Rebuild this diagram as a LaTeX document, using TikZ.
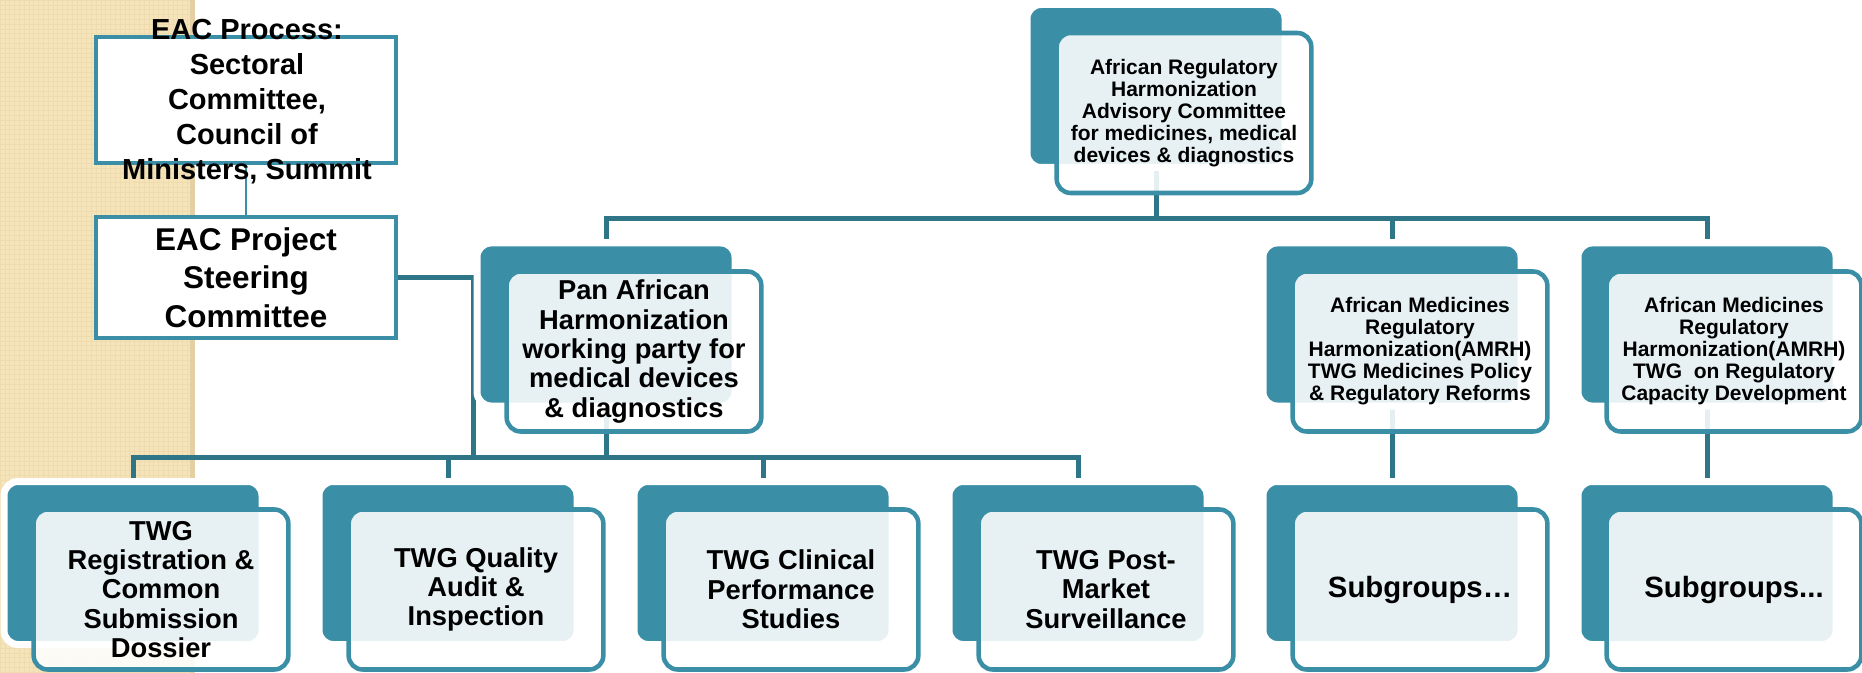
\documentclass[tikz,border=0pt]{standalone}
\usepackage{fontspec}
\setmainfont{Liberation Sans}
\definecolor{boxteal}{RGB}{58,143,166}
\definecolor{linkteal}{RGB}{45,117,135}
\definecolor{paperbeige}{RGB}{245,228,186}
\definecolor{papergrid}{RGB}{238,219,174}
\definecolor{paperedge}{RGB}{228,208,162}
\pgfdeclarelayer{paper}
\pgfdeclarelayer{links}
\pgfsetlayers{paper,links,main}
\begin{document}
\begin{tikzpicture}[x=0.75pt,y=-0.75pt]
  \tikzstyle{back}=[rectangle,rounded corners=10.5pt,fill=boxteal,draw=white,line width=5.25pt,minimum width=193.5pt,minimum height=122.25pt,inner sep=0pt]
  \tikzstyle{front}=[rectangle,rounded corners=10.5pt,draw=boxteal,line width=3.4pt,fill=white,fill opacity=0.88,text opacity=1,minimum width=191pt,minimum height=120pt,inner sep=0pt,align=center]
  \tikzstyle{plain}=[rectangle,draw=boxteal,line width=3.4pt,fill=white,minimum width=225pt,inner sep=0pt,align=center]
  \tikzstyle{link}=[draw=linkteal,line width=3.75pt]
  \tikzstyle{small}=[font=\bfseries\fontsize{15.75}{16.5}\selectfont]
  \tikzstyle{mid}=[font=\bfseries\fontsize{20.5}{22}\selectfont]
  \tikzstyle{big}=[font=\bfseries\fontsize{22}{26}\selectfont]
  \useasboundingbox (0,0) rectangle (1862,673);
  \begin{pgfonlayer}{paper}
    \fill[paperbeige] (0,0) rectangle (195,673);
    \draw[papergrid,line width=0.4pt,step=3.6pt] (0,0) grid (190,673);
    \fill[paperedge] (190,0) rectangle (195,673);
  \end{pgfonlayer}
  \coordinate (topbus) at (0,219);
  \coordinate (lowbus) at (0,457);
  \coordinate (elbow) at (473,457);
  \node[plain,minimum height=94.5pt] (eacp) at (246,100) {};
  \node[align=center,font=\bfseries\fontsize{21.75}{26.25}\selectfont] (eacp-t) at (247,102) {EAC Process:\\Sectoral\\Committee,\\Council of\\Ministers, Summit};
  \node[plain,minimum height=90.75pt,font=\bfseries\fontsize{23.6}{28.9}\selectfont] (steer) at (246,277.5) {EAC Project\\Steering\\Committee};
  \node[back] (arhac-b) at (1156,86) {};
  \node[front,small] (arhac) at (1184,113) {African Regulatory\\Harmonization\\Advisory Committee\\for medicines, medical\\devices \& diagnostics};
  \node[back] (pan-b) at (606,324.5) {};
  \node[front,mid] (pan) at (634,351.5) {Pan African\\Harmonization\\working party for\\medical devices\\\& diagnostics};
  \node[back] (amrh1-b) at (1392,324.5) {};
  \node[front,small] (amrh1) at (1420,351.5) {African Medicines\\Regulatory\\Harmonization(AMRH)\\TWG Medicines Policy\\\& Regulatory Reforms};
  \node[back] (amrh2-b) at (1707,324.5) {};
  \node[front,small] (amrh2) at (1734,351.5) {African Medicines\\Regulatory\\Harmonization(AMRH)\\TWG\ \ on Regulatory\\Capacity Development};
  \node[back] (reg-b) at (133,563) {};
  \node[front,mid] (reg) at (161,589.5) {TWG\\Registration \&\\Common\\Submission\\Dossier};
  \node[back] (qa-b) at (448,563) {};
  \node[front,mid] (qa) at (476,589.5) {TWG Quality\\Audit \&\\Inspection};
  \node[back] (cps-b) at (763,563) {};
  \node[front,mid] (cps) at (791,589.5) {TWG Clinical\\Performance\\Studies};
  \node[back] (pms-b) at (1078,563) {};
  \node[front,mid] (pms) at (1106,589.5) {TWG Post-\\Market\\Surveillance};
  \node[back] (sub1-b) at (1392,563) {};
  \node[front,big] (sub1) at (1420,589.5) {Subgroups…};
  \node[back] (sub2-b) at (1707,563) {};
  \node[front,big] (sub2) at (1734,589.5) {Subgroups...};
  \begin{pgfonlayer}{links}
    \draw[boxteal,line width=1.5pt] (eacp.south) -- (steer.north);
    \draw[link] (arhac-b.center) -- (arhac-b.center |- topbus);
    \draw[link] (pan-b.north) -- (pan-b.north |- topbus) -- (amrh2-b.north |- topbus) -- (amrh2-b.north);
    \draw[link] (amrh1-b.north) -- (amrh1-b.north |- topbus);
    \draw[link] (pan-b.center) -- (pan-b.center |- lowbus);
    \draw[link] (reg-b.north) -- (reg-b.north |- lowbus) -- (pms-b.north |- lowbus) -- (pms-b.north);
    \draw[link] (qa-b.north) -- (qa-b.north |- lowbus);
    \draw[link] (cps-b.north) -- (cps-b.north |- lowbus);
    \draw[link] (steer.east) -| (elbow);
    \draw[link] (amrh1-b.center) -- (sub1-b.north);
    \draw[link] (amrh2-b.center) -- (sub2-b.north);
  \end{pgfonlayer}
\end{tikzpicture}
\end{document}
